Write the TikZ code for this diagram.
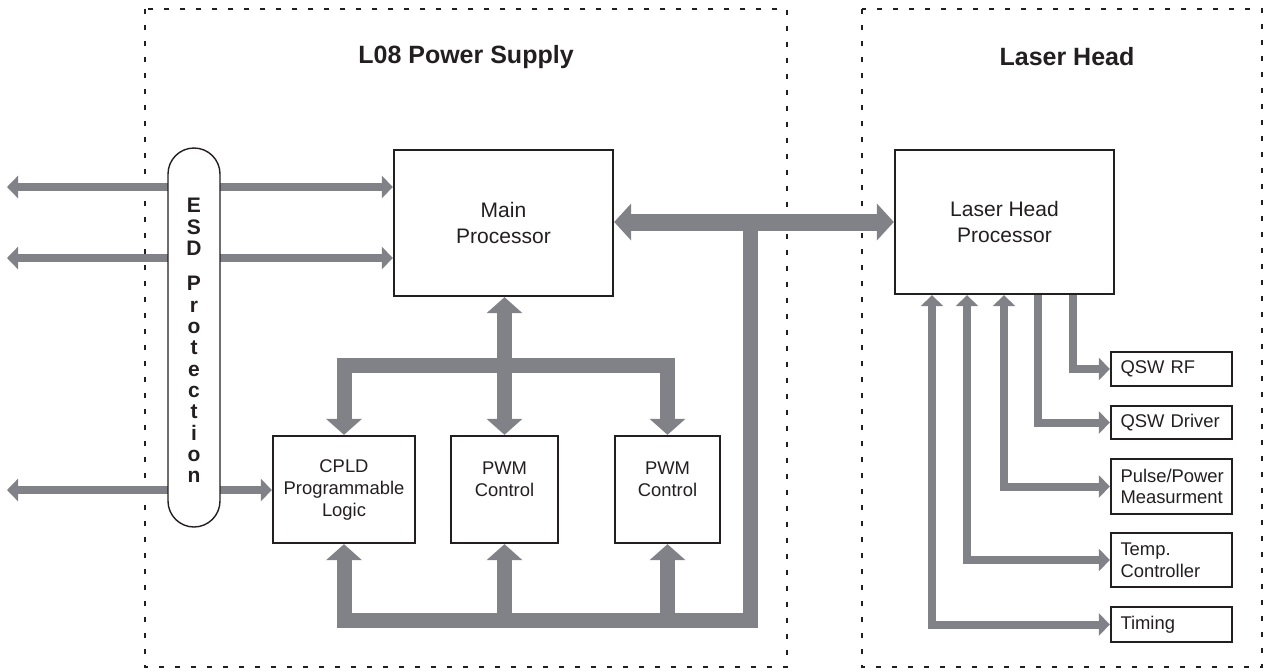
\documentclass[tikz,border=0pt]{standalone}
\usepackage{fontspec}
\setmainfont{Liberation Sans}
\usetikzlibrary{arrows.meta, positioning, calc}
\definecolor{busgray}{RGB}{128,130,135}
\definecolor{inkdark}{RGB}{35,31,32}
\tikzset{
  region/.style={draw=inkdark, line width=1.4pt, dash pattern=on 2.5pt off 5.5pt},
  titletext/.style={font=\bfseries\fontsize{12.5}{15}\selectfont, text=inkdark},
  procbox/.style={draw=inkdark, line width=1.15pt, align=center, font=\fontsize{10.5}{13}\selectfont, text=inkdark},
  subbox/.style={draw=inkdark, line width=1.15pt, minimum height=53.5pt, align=center, font=\fontsize{9.2}{11}\selectfont, text=inkdark},
  subtext/.style={align=center, font=\fontsize{9.2}{11}\selectfont, text=inkdark},
  sidebox/.style={draw=inkdark, line width=1.15pt, text width=51pt, inner xsep=4.75pt, inner ysep=0pt, align=left, font=\fontsize{9.2}{10.85}\selectfont, text=inkdark},
  esdcap/.style={draw=inkdark, line width=0.7pt, fill=white, rounded corners=13pt},
  esdtext/.style={align=center, inner sep=0pt, font=\bfseries\fontsize{10.5}{10.67}\selectfont, text=inkdark},
  busarrow/.style={draw=busgray, line width=7.5pt, >={Triangle[width=17.5pt,length=8pt]}},
  mainbus/.style={draw=busgray, line width=8.5pt, >={Triangle[width=18pt,length=8.5pt]}},
  linkarrow/.style={draw=busgray, line width=4pt, >={Triangle[width=11pt,length=5.5pt]}}
}
\begin{document}
\begin{tikzpicture}[x=0.5pt, y=-0.5pt]
\useasboundingbox (0,0) rectangle (1265,671);
% dotted enclosures
\draw[region] (145,9) rectangle (787,667);
\draw[region] (862,9) rectangle (1262,667);
\node[titletext] (pstitle) at (466,57) {L08 Power Supply};
\node[titletext] (lhtitle) at (1067,57) {Laser Head};

% processors
\node[procbox, minimum width=109.5pt, minimum height=73pt] (main) at (503.5,223) {Main\\Processor};
\node[procbox, minimum width=109.5pt, minimum height=72pt] (laser) at (1004.5,222) {Laser Head\\Processor};

% power supply blocks
\node[subbox, minimum width=71pt] (cpld) at (344,489.5) {CPLD\\Programmable\\Logic};
\node[subbox, minimum width=53.5pt] (pwma) at (504.5,489.5) {};
\node[subbox, minimum width=52.5pt] (pwmb) at (667.5,489.5) {};
\node[subtext] (pwmatxt) at (504.5,479) {PWM\\Control};
\node[subtext] (pwmbtxt) at (667.5,479) {PWM\\Control};

% laser head blocks
\node[sidebox, minimum height=17pt] (qswrf) at (1171.5,369) {QSW RF};
\node[sidebox, minimum height=16.5pt] (qswdrv) at (1171.5,422.5) {QSW Driver};
\node[sidebox, minimum height=27.5pt] (pulse) at (1171.5,486.5) {Pulse/Power\\Measurment};
\node[sidebox, minimum height=27pt] (temp) at (1171.5,560) {Temp.\\Controller};
\node[sidebox, minimum height=17.5pt] (timing) at (1171.5,624.5) {Timing};

% external lines through the ESD protection
\coordinate (ext1) at (7,187);
\coordinate (ext2) at (7,258);
\coordinate (ext3) at (7,490);
\draw[linkarrow, <->] (ext1) -- (main.west |- ext1);
\draw[linkarrow, <->] (ext2) -- (main.west |- ext2);
\draw[linkarrow, <->] (ext3) -- (cpld.west |- ext3);
\node[esdcap, minimum width=26pt, minimum height=189.5pt] (esd) at (194,337.5) {};
\node[esdtext, anchor=north] (esdlbl) at (194,198) {E\\S\\D\\[6.9pt]P\\r\\o\\t\\e\\c\\t\\i\\o\\n};

% buses
\coordinate (tbar) at (504.5,365);
\coordinate (bbar) at (750,620);
\coordinate (tee) at (750,222);
\draw[busarrow, <->] (pwma.north |- main.south) -- (pwma.north);
\draw[busarrow, <->] (cpld.north) |- (tbar) -| (pwmb.north);
\draw[busarrow, <-] (cpld.south) |- (bbar) -- (tee);
\draw[busarrow, <-] (pwma.south) -- (pwma.south |- bbar);
\draw[busarrow, <-] (pwmb.south) -- (pwmb.south |- bbar);
\draw[mainbus, <->] (main.east |- tee) -- (laser.west |- tee);

% laser head links
\draw[linkarrow, ->] ($(laser.south)+(68.5,0)$) |- (qswrf.west);
\draw[linkarrow, ->] ($(laser.south)+(33.5,0)$) |- (qswdrv.west);
\draw[linkarrow, <->] ($(laser.south)+(-0.5,0)$) |- (pulse.west);
\draw[linkarrow, <->] ($(laser.south)+(-37.5,0)$) |- (temp.west);
\draw[linkarrow, <->] ($(laser.south)+(-72.5,0)$) |- (timing.west);
\end{tikzpicture}
\end{document}
